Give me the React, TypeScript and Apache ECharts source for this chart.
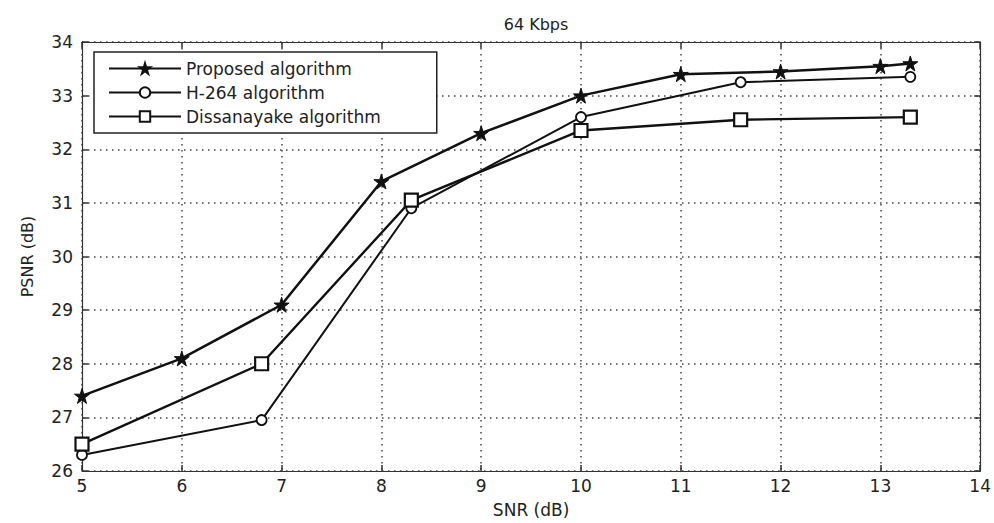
import React, { useEffect, useRef } from "react";
import * as echarts from "echarts";

// SNR (dB) sample points and measured PSNR (dB) for each coder
const snrProposed = [5, 6, 7, 8, 9, 10, 11, 12, 13, 13.3];
const psnrProposed = [27.4, 28.1, 29.1, 31.4, 32.3, 33.0, 33.4, 33.45, 33.55, 33.6];

const snrH264 = [5, 6.8, 8.3, 10, 11.6, 13.3];
const psnrH264 = [26.3, 26.95, 30.9, 32.6, 33.25, 33.35];

const snrDissanayake = [5, 6.8, 8.3, 10, 11.6, 13.3];
const psnrDissanayake = [26.5, 28.0, 31.05, 32.35, 32.55, 32.6];

const seriesNames = ["Proposed algorithm", "H-264 algorithm", "Dissanayake algorithm"];
const titleText = "64 Kbps";
const xAxisName = "SNR (dB)";
const yAxisName = "PSNR (dB)";

const STAR =
  "path://M50,0 L61,35 L98,35 L68,57 L79,91 L50,70 L21,91 L32,57 L2,35 L39,35 Z";

const FONT = "DejaVu Sans";

const zip = (xs: number[], ys: number[]) => xs.map((x, i) => [x, ys[i]]);

export default function App() {
  const ref = useRef<HTMLDivElement>(null);

  useEffect(() => {
    if (!ref.current) return;
    const chart = echarts.init(ref.current, undefined, { renderer: "svg" });

    const axisLine = { show: true, lineStyle: { color: "#333", width: 1.2 } };
    const innerTick = { show: true, inside: true, length: 6, lineStyle: { color: "#333", width: 1.5 } };
    const dotted = { show: true, lineStyle: { color: "#444", width: 1.5, type: [1.5, 4.5] as any } };
    const tickLabel = { color: "#222", fontFamily: FONT, fontSize: 17 };

    chart.setOption({
      animation: false,
      backgroundColor: "#ffffff",
      title: {
        text: titleText,
        left: 531,
        top: 11,
        textAlign: "center",
        textStyle: { fontFamily: FONT, fontSize: 16, fontWeight: "normal", color: "#222" },
      },
      legend: {
        orient: "vertical",
        left: 94,
        top: 52,
        data: seriesNames,
        itemWidth: 72,
        itemHeight: 13,
        itemGap: 7,
        padding: [8, 56, 8, 14],
        borderColor: "#222",
        borderWidth: 1.5,
        backgroundColor: "#ffffff",
        textStyle: { fontFamily: FONT, fontSize: 17, color: "#222" },
      },
      grid: { left: 82, right: 13, top: 42, bottom: 50 },
      xAxis: [
        {
          type: "value",
          min: 5,
          max: 14,
          interval: 1,
          position: "bottom",
          name: xAxisName,
          nameLocation: "middle",
          nameGap: 30,
          nameTextStyle: { fontFamily: FONT, fontSize: 17, color: "#222" },
          axisLine,
          axisTick: innerTick,
          axisLabel: { ...tickLabel, margin: 6 },
          splitLine: dotted,
        },
        {
          type: "value",
          min: 5,
          max: 14,
          interval: 1,
          position: "top",
          axisLine,
          axisTick: innerTick,
          axisLabel: { show: false },
          splitLine: { show: false },
        },
      ],
      yAxis: [
        {
          type: "value",
          min: 26,
          max: 34,
          interval: 1,
          position: "left",
          name: yAxisName,
          nameLocation: "middle",
          nameGap: 47,
          nameTextStyle: { fontFamily: FONT, fontSize: 16, color: "#222" },
          axisLine,
          axisTick: innerTick,
          axisLabel: { ...tickLabel, margin: 9 },
          splitLine: dotted,
        },
        {
          type: "value",
          min: 26,
          max: 34,
          interval: 1,
          position: "right",
          axisLine,
          axisTick: innerTick,
          axisLabel: { show: false },
          splitLine: { show: false },
        },
      ],
      series: [
        {
          name: seriesNames[0],
          type: "line",
          data: zip(snrProposed, psnrProposed),
          symbol: STAR,
          symbolSize: 15,
          lineStyle: { color: "#111", width: 2.5 },
          itemStyle: { color: "#111", borderColor: "#111", borderWidth: 1 },
          z: 4,
        },
        {
          name: seriesNames[1],
          type: "line",
          data: zip(snrH264, psnrH264),
          symbol: "circle",
          symbolSize: 10,
          lineStyle: { color: "#111", width: 2 },
          itemStyle: { color: "#ffffff", borderColor: "#111", borderWidth: 1.8 },
          z: 3,
        },
        {
          name: seriesNames[2],
          type: "line",
          data: zip(snrDissanayake, psnrDissanayake),
          symbol: "rect",
          symbolSize: 13,
          lineStyle: { color: "#111", width: 2.4 },
          itemStyle: { color: "#ffffff", borderColor: "#111", borderWidth: 2.2 },
          z: 3,
        },
      ],
    });

    return () => chart.dispose();
  }, []);

  return (
    <div
      ref={ref}
      style={{ position: "absolute", left: 0, top: 0, width: 994, height: 523 }}
    />
  );
}
